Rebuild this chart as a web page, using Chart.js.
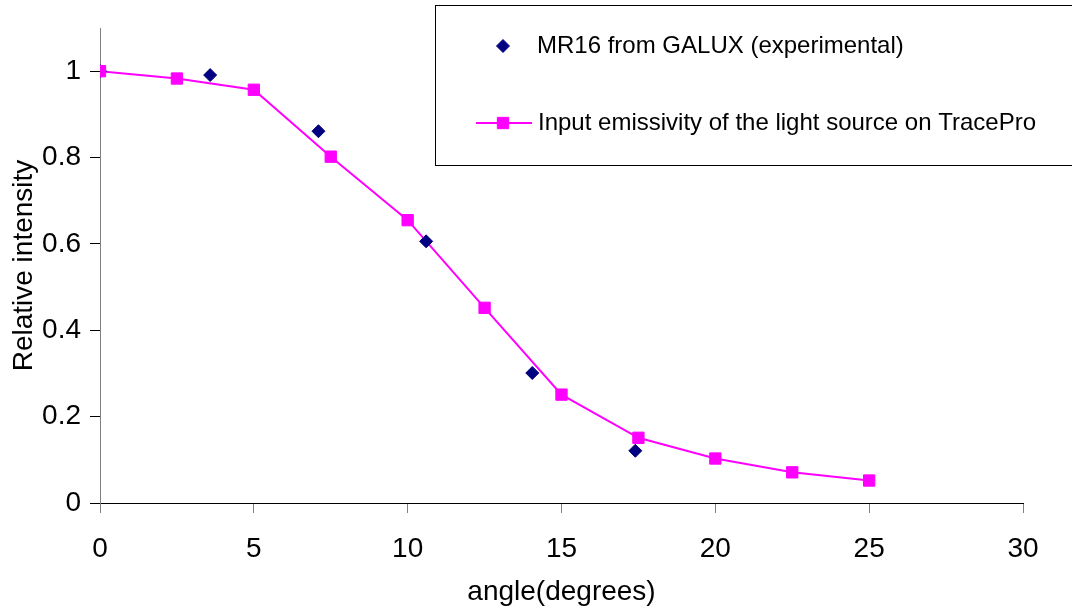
<!DOCTYPE html>
<html>
<head>
<meta charset="utf-8">
<script src="https://cdn.jsdelivr.net/npm/chart.js@4/dist/chart.umd.min.js"></script>
<style>
  html, body { margin: 0; padding: 0; background: #fff; }
  canvas { display: block; }
</style>
</head>
<body>
<canvas id="intensidade" width="1072" height="609"></canvas>
<script>
// - Dados

const expAngles = [0, 3.58, 7.1, 10.6, 14.05, 17.4];
const expIntensity = [1.0, 0.991, 0.861, 0.606, 0.301, 0.121];

const simAngles = [0, 2.5, 5, 7.5, 10, 12.5, 15, 17.5, 20, 22.5, 25];
const simIntensity = [1.0, 0.983, 0.957, 0.802, 0.655, 0.452, 0.251, 0.151, 0.103, 0.071, 0.052];

const seriesNames = [
  'MR16 from GALUX (experimental)',
  'Input emissivity of the light source on TracePro'
];

const xTicks = [0, 5, 10, 15, 20, 25, 30];
const yTicks = [0, 0.2, 0.4, 0.6, 0.8, 1];

const FONT = "'Liberation Sans', Arial, sans-serif";
const NAVY = '#000080';
const MAGENTA = '#FF00FF';

function pares(xs, ys) {
  return xs.map((x, i) => ({ x: x, y: ys[i] }));
}

// - Legenda (caixa no topo, por cima do grafico)

const legendaBox = {
  id: 'legendaBox',
  afterDraw(chart) {
    const ctx = chart.ctx;
    ctx.save();
    ctx.strokeStyle = '#000';
    ctx.lineWidth = 1;
    ctx.strokeRect(435.5, 5.5, 700, 160);

    ctx.font = '24px ' + FONT;
    ctx.textBaseline = 'middle';
    ctx.fillStyle = '#000';
    ctx.fillText(seriesNames[0], 537, 46);
    ctx.fillText(seriesNames[1], 538, 123);

    ctx.fillStyle = NAVY;
    ctx.strokeStyle = NAVY;
    Chart.helpers.drawPoint(ctx, { pointStyle: 'rectRot', radius: 6.5, borderWidth: 1 }, 503, 46);

    ctx.strokeStyle = MAGENTA;
    ctx.lineWidth = 2;
    ctx.beginPath();
    ctx.moveTo(476, 123);
    ctx.lineTo(532, 123);
    ctx.stroke();
    ctx.fillStyle = MAGENTA;
    ctx.lineWidth = 1;
    Chart.helpers.drawPoint(ctx, { pointStyle: 'rect', radius: 8, borderWidth: 1 }, 503, 123);
    ctx.restore();
  }
};

const data = {
  datasets: [{
    // marcadores quadrados por cima de tudo
    label: seriesNames[1],
    data: pares(simAngles, simIntensity),
    showLine: false,
    pointStyle: 'rect',
    pointRadius: 8,
    pointBorderWidth: 1,
    backgroundColor: MAGENTA,
    borderColor: MAGENTA
  },
  {
    label: seriesNames[0],
    data: pares(expAngles, expIntensity),
    showLine: false,
    pointStyle: 'rectRot',
    pointRadius: 6.5,
    pointBorderWidth: 1,
    backgroundColor: NAVY,
    borderColor: NAVY
  },
  {
    label: seriesNames[1],
    data: pares(simAngles, simIntensity),
    showLine: true,
    pointRadius: 0,
    borderWidth: 2,
    borderColor: MAGENTA,
    tension: 0
  }]
};

const config = {
  type: 'scatter',
  data: data,
  options: {
    responsive: false,
    animation: false,
    devicePixelRatio: 1,
    layout: { padding: { top: 28, right: 49, left: 0, bottom: 0 } },
    plugins: {
      legend: { display: false },
      tooltip: { enabled: false }
    },
    scales: {
      x: {
        type: 'linear',
        min: 0,
        max: 30,
        afterBuildTicks: s => { s.ticks = xTicks.map(v => ({ value: v })); },
        afterFit: s => { s.height = 106; },
        border: { color: '#000', width: 1 },
        grid: { drawOnChartArea: false, tickLength: 10, color: '#808080' },
        ticks: { font: { family: FONT, size: 28 }, color: '#000', padding: 19, maxRotation: 0 },
        title: {
          display: true,
          text: 'angle(degrees)',
          font: { family: FONT, size: 28 },
          color: '#000',
          padding: { top: 0, bottom: 0 }
        }
      },
      y: {
        type: 'linear',
        min: 0,
        max: 1.1,
        afterBuildTicks: s => { s.ticks = yTicks.map(v => ({ value: v })); },
        afterFit: s => { s.width = 100; },
        border: { color: '#808080', width: 1 },
        grid: { drawOnChartArea: false, tickLength: 10, color: '#000' },
        ticks: {
          font: { family: FONT, size: 28 },
          color: '#000',
          padding: 9,
          callback: v => String(v)
        },
        title: {
          display: true,
          text: 'Relative intensity',
          font: { family: FONT, size: 28 },
          color: '#000',
          padding: { top: 7, bottom: 0 }
        }
      }
    }
  },
  plugins: [legendaBox]
};

const grafico = new Chart(
  document.getElementById('intensidade'),
  config
);
</script>
</body>
</html>
